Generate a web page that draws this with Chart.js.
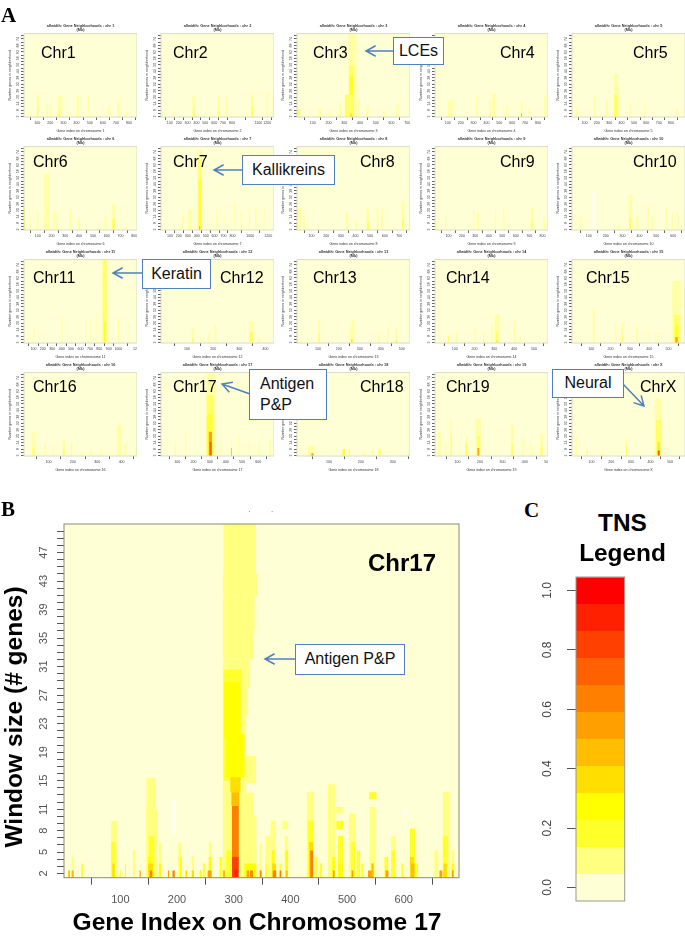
<!DOCTYPE html>
<html>
<head>
<meta charset="utf-8">
<title>Gene neighborhoods by chromosome</title>
<script src="https://cdn.jsdelivr.net/npm/chart.js@4/dist/chart.umd.min.js"></script>
<style>
  html, body { margin: 0; padding: 0; background: #fff; }
  #page { position: relative; width: 685px; height: 936px; overflow: hidden; font-family: "Liberation Sans", sans-serif; }
  canvas { position: absolute; }
  canvas.small { filter: blur(0.6px); }
  canvas.large { filter: blur(0.4px); }
  .note { position: absolute; white-space: nowrap; color: #000; line-height: 1; transform: translate(0, -50%); }
  .box { position: absolute; box-sizing: border-box; background: #fff; border: 1.5px solid #4f81bd; color: #111; display: flex; align-items: center; justify-content: center; font-size: 16px; line-height: 1.3; }
  svg { position: absolute; left: 0; top: 0; }
</style>
</head>
<body>
<div id="page"></div>
<script>
// colour for each TNS level, 0 is the pale gap colour, 1 the background
const tnsShades = ["#FFFFF0", "#FFFFD5", "#FFFF80", "#FFFF2A", "#FFFF00", "#FFDF00", "#FFBF00", "#FF9F00", "#FF8000", "#FF6000", "#FF4000", "#FF2000", "#FF0000"];
// the small panels were shrunk in the figure, so their thin stripes read paler
const smallShades = ["#FFFFF0", "#FFFFD5", "#FFFFA6", "#FFFF66", "#FFFF2A", "#FFE640", "#FFBF00", "#FFA020", "#FF8000", "#FF6000", "#FF4000", "#FF2000", "#FF0000"];
const legendEdges = [-0.045, 0.045, 0.136, 0.227, 0.318, 0.409, 0.5, 0.591, 0.682, 0.773, 0.864, 0.955, 1.045];
const legendTicks = [0, 0.2, 0.4, 0.6, 0.8, 1];

const chrNames = ["Chr1", "Chr2", "Chr3", "Chr4", "Chr5", "Chr6", "Chr7", "Chr8", "Chr9", "Chr10", "Chr11", "Chr12", "Chr13", "Chr14", "Chr15", "Chr16", "Chr17", "Chr18", "Chr19", "ChrX"];
const chrIds = ["1", "2", "3", "4", "5", "6", "7", "8", "9", "10", "11", "12", "13", "14", "15", "16", "17", "18", "19", "X"];
const chrGeneCounts = [860, 1275, 717, 878, 913, 820, 1265, 773, 840, 670, 1200, 433, 540, 571, 586, 463, 697, 354, 503, 576];
const chrTickLabels = [
  [100, 200, 300, 400, 500, 600, 700, 800],
  [100, 200, 300, 400, 500, 600, 700, 800, 1100, 1200],
  [100, 200, 300, 400, 500, 600, 700],
  [100, 200, 300, 400, 500, 600, 700, 800],
  [100, 200, 300, 400, 500, 600, 700, 800],
  [100, 200, 300, 400, 500, 600, 700, 800],
  [100, 200, 300, 400, 500, 600, 700, 800, 1000, 1200],
  [100, 200, 300, 400, 500, 600, 700],
  [100, 200, 300, 400, 500, 600, 700, 800],
  [100, 200, 300, 400, 500, 600],
  [100, 200, 300, 400, 500, 600, 700, 800, 900, 1000, 1200],
  [100, 200, 300, 400],
  [100, 200, 300, 400, 500],
  [100, 200, 300, 400, 500],
  [100, 200, 300, 400, 500],
  [100, 200, 300, 400],
  [100, 200, 300, 400, 500, 600],
  [100, 200, 300],
  [100, 200, 300, 400, 500],
  [100, 200, 300, 400, 500]
];
const smallWindowLabels = [2, 8, 14, 20, 26, 32, 38, 44, 50, 56, 62, 68, 74];

// stripes: [first gene, last gene, top window, level]
const chr1Stripes = [[95, 115, 22, 2], [170, 185, 14.5, 2], [200, 210, 12.6, 2], [256, 292, 20.8, 2], [400, 420, 20.8, 2], [487, 503, 21.4, 2], [638, 654, 11.4, 2], [710, 726, 17.3, 2], [770, 785, 7, 2], [48, 58, 6, 2], [345, 355, 6, 2], [100, 108, 9, 3], [262, 275, 8, 3]];
const chr2Stripes = [[135, 155, 7, 2], [351, 389, 21, 2], [637, 668, 20, 2], [728, 751, 20, 2], [1011, 1049, 22, 2], [1190, 1210, 23, 2], [1260, 1275, 23, 2], [360, 378, 9, 3], [645, 660, 8, 3], [1020, 1040, 12, 3]];
const chr3Stripes = [[326, 379, 79, 2], [330, 362, 49.5, 3], [332, 358, 40, 4], [304, 358, 22, 3], [336, 352, 5, 5], [0, 20, 9, 3], [135, 155, 9, 2], [200, 215, 6, 2], [265, 280, 14.5, 2], [385, 398, 17, 2], [440, 455, 12, 2], [545, 560, 7, 2], [630, 645, 13.5, 2]];
const chr4Stripes = [[100, 118, 16.7, 2], [118, 140, 18, 2], [320, 335, 21.4, 2], [445, 470, 23, 2], [420, 435, 16, 2], [555, 570, 12, 2], [530, 540, 12, 2], [665, 680, 15, 2], [668, 676, 5, 6], [725, 735, 10, 2], [845, 865, 22, 2]];
const chr5Stripes = [[340, 373, 41.7, 2], [354, 381, 30, 2], [340, 365, 22, 3], [176, 190, 21.4, 2], [268, 290, 18, 2], [30, 45, 10.4, 2], [465, 475, 15, 2], [585, 595, 15, 2], [840, 855, 9, 2]];
const chr6Stripes = [[146, 185, 54, 2], [0, 8, 22, 3], [92, 105, 17.6, 2], [212, 225, 19, 2], [235, 245, 19, 2], [330, 345, 20.7, 2], [390, 405, 13, 2], [585, 600, 15, 2], [635, 665, 25.4, 2], [640, 660, 12, 3], [40, 50, 13, 2], [540, 548, 3, 5]];
const chr7Stripes = [[404, 461, 76, 2], [420, 452, 67, 3], [423, 446, 49, 4], [303, 348, 20, 2], [235, 250, 14.5, 2], [615, 625, 20.7, 2], [700, 710, 17.6, 2], [820, 835, 27, 2], [980, 995, 21.4, 2], [1055, 1070, 22, 2], [1150, 1160, 22, 2], [890, 900, 19, 2], [426, 440, 5, 6]];
const chr8Stripes = [[5, 30, 22, 2], [40, 55, 14.5, 2], [335, 350, 17.6, 2], [400, 410, 10, 2], [475, 500, 20.7, 2], [480, 495, 9, 3], [545, 558, 22, 2], [575, 590, 20.7, 2], [715, 735, 28.5, 2], [720, 732, 12, 3]];
const chr9Stripes = [[8, 20, 10, 2], [75, 85, 14.5, 2], [145, 155, 5, 2], [282, 292, 20.7, 2], [310, 330, 17.6, 2], [445, 455, 20.7, 2], [505, 517, 20.7, 2], [710, 730, 22, 2], [715, 725, 9, 3], [805, 820, 13, 2]];
const chr10Stripes = [[120, 140, 36, 0], [45, 55, 13, 2], [265, 285, 6, 2], [335, 357, 34, 2], [338, 352, 12, 3], [380, 395, 14.5, 2], [448, 458, 23, 2], [470, 485, 14.5, 2], [555, 565, 22, 2], [590, 600, 17.6, 2], [625, 635, 17.6, 2]];
const chr11Stripes = [[825, 893, 79, 2], [840, 878, 79, 3], [850, 871, 21, 4], [40, 50, 10, 2], [100, 112, 16.7, 2], [400, 410, 26, 2], [497, 505, 10, 2], [650, 660, 23, 2], [703, 715, 23, 2], [770, 780, 27.6, 2], [995, 1010, 24.5, 2], [1113, 1125, 20, 2]];
const chr12Stripes = [[22, 26, 5, 2], [117, 127, 16, 2], [120, 126, 6, 3], [152, 158, 6.7, 2], [180, 188, 10.4, 2], [205, 212, 19, 2], [337, 356, 21.4, 2], [340, 352, 12, 3], [372, 380, 6.7, 2]];
const chr13Stripes = [[0, 6, 15, 2], [100, 110, 23, 2], [102, 108, 10, 3], [250, 262, 18, 2], [262, 275, 23, 2], [258, 266, 5, 5], [385, 395, 10, 2], [430, 438, 15, 2], [470, 478, 15, 2], [473, 478, 4, 5]];
const chr14Stripes = [[65, 72, 8, 3], [105, 115, 12, 2], [200, 208, 15, 2], [242, 250, 12, 2], [285, 292, 19.6, 2], [302, 327, 27.6, 2], [308, 320, 12, 3], [310, 316, 4, 5], [398, 405, 22, 2], [430, 436, 7, 2]];
const chr15Stripes = [[108, 118, 33, 2], [222, 230, 18, 2], [255, 268, 20.7, 2], [258, 265, 9, 3], [332, 340, 16.7, 2], [398, 404, 12, 2], [432, 438, 12, 2], [520, 565, 59, 2], [528, 558, 27.6, 3], [535, 552, 18, 4], [536, 548, 7, 7]];
const chr16Stripes = [[32, 46, 24, 2], [35, 43, 9, 3], [83, 90, 13, 2], [118, 124, 11, 2], [158, 168, 17, 2], [160, 166, 8, 3], [190, 197, 13, 2], [235, 242, 5, 2], [268, 274, 6, 2], [312, 320, 6.7, 2], [380, 398, 30, 2], [410, 420, 13, 2], [455, 463, 8, 2]];
const chr17Stripes = [[281, 340, 78, 2], [281, 325, 58, 3], [285, 315, 40, 4], [295, 315, 24, 7], [299, 311, 14.5, 9], [85, 93, 14, 2], [148, 156, 23, 2], [365, 372, 13, 2], [430, 437, 18, 2], [433, 437, 9, 7], [478, 484, 21, 2], [540, 547, 17, 2], [600, 607, 13, 2], [670, 678, 17, 2]];
const chr18Stripes = [[34, 55, 11, 2], [45, 52, 4, 7], [143, 150, 8, 4], [160, 166, 8, 2], [208, 214, 6, 2], [235, 241, 8, 2], [255, 262, 8, 3], [345, 351, 4.5, 2]];
const chr19Stripes = [[15, 27, 24, 2], [45, 52, 13, 2], [68, 76, 36, 2], [70, 75, 20, 3], [138, 146, 21, 2], [135, 147, 13, 3], [180, 205, 36, 2], [186, 200, 20, 3], [189, 197, 9, 7], [337, 352, 30, 2], [340, 348, 12, 3], [388, 396, 18, 2], [422, 428, 14, 2], [467, 480, 22, 2], [470, 478, 10, 3]];
const chrXStripes = [[18, 26, 20, 2], [75, 80, 8, 3], [150, 160, 6, 2], [275, 281, 19, 2], [275, 281, 11, 3], [422, 456, 55, 2], [428, 453, 35, 3], [436, 449, 14.5, 5], [437, 447, 6.7, 9]];
const allChrStripes = [chr1Stripes, chr2Stripes, chr3Stripes, chr4Stripes, chr5Stripes, chr6Stripes, chr7Stripes, chr8Stripes, chr9Stripes, chr10Stripes, chr11Stripes, chr12Stripes, chr13Stripes, chr14Stripes, chr15Stripes, chr16Stripes, chr17Stripes, chr18Stripes, chr19Stripes, chrXStripes];

// panel B: [first gene, last gene, top window, level, bottom window if not the axis]
const detailGeneTicks = [100, 200, 300, 400, 500, 600];
const detailWindowLabels = [2, 5, 8, 11, 15, 19, 23, 27, 31, 35, 39, 43, 47];
const detailPeak = [
  [282, 339, 51, 2, 44], [281, 341, 44, 2, 41], [281, 337, 41, 2, 36], [281, 334, 36, 2, 32], [281, 328, 32, 2, 28], [281, 325, 28, 2, 24], [281, 322, 24, 2, 21], [281, 321, 21, 2],
  [319, 339, 18.5, 2, 14.6], [321, 335, 13.3, 2], [322, 340, 10, 2], [282, 299, 12.2, 2],
  [282, 313, 30.6, 3, 15], [283, 311, 28.8, 4, 21], [287, 319, 21.6, 4, 15.5], [287, 296, 5.2, 3],
  [294, 312, 15.5, 5, 13.4], [296, 310, 13.4, 6, 11.5], [297, 309, 11.5, 8, 4.3], [297, 309, 4.3, 10], [301, 307, 2.5, 11],
  [319, 340, 3.4, 4], [323, 327, 2.4, 7], [329, 334, 2.4, 8]
];
const detailStripes = [
  [190, 198, 12.2, 0, 7.6], [598, 606, 11, 0, 10],
  [8, 11, 2.4, 6], [14, 18, 4.3, 2], [14, 18, 2.4, 6], [31, 34, 3.4, 3],
  [84, 94, 9.4, 2], [84, 91, 6.4, 3], [86, 90, 3.4, 5], [99, 101, 2.4, 3], [108, 110, 3.4, 3],
  [122, 126, 5.3, 2], [134, 136, 2.4, 7],
  [146, 162, 15.4, 2], [146, 165, 11, 2], [150, 160, 7.3, 3], [149, 155, 4.3, 4], [149, 158, 3.4, 5], [152, 156, 2.4, 8],
  [168, 173, 6.3, 2], [168, 172, 3.4, 4], [184, 186, 2.4, 7], [192, 196, 2.4, 8],
  [202, 208, 6.3, 2], [205, 208, 4.3, 4], [215, 218, 2.4, 5], [226, 230, 4.4, 2], [226, 230, 2.4, 5],
  [240, 243, 2.4, 4], [246, 250, 3.4, 3], [256, 261, 6.4, 2], [256, 261, 4.3, 4], [254, 261, 2.4, 7],
  [275, 280, 4.3, 3], [281, 285, 2.4, 6],
  [346, 350, 6.3, 2], [346, 349, 2.4, 8], [356, 365, 7.3, 2], [356, 359, 3.4, 3],
  [365, 374, 9.4, 2], [367, 372, 5.2, 4], [368, 375, 3.4, 5], [369, 375, 2.4, 8], [381, 384, 3.4, 3], [381, 384, 2.4, 8],
  [386, 395, 9.4, 2, 8.2], [390, 396, 7.3, 2], [391, 396, 5.2, 4], [392, 395, 2.4, 6],
  [429, 442, 13.4, 2], [431, 441, 9.4, 3], [433, 440, 6.4, 5], [435, 440, 5.2, 8],
  [443, 447, 4.3, 3], [452, 456, 3.4, 3],
  [466, 479, 14.5, 2], [474, 479, 4.3, 4], [475, 478, 2.4, 7],
  [480, 493, 11.3, 2, 10.4], [481, 493, 9.4, 3, 8.2], [484, 493, 7.3, 3], [484, 492, 3.4, 4],
  [503, 515, 10.4, 2], [507, 514, 6.4, 3], [508, 511, 2.4, 7], [517, 523, 5.2, 3], [525, 529, 3.4, 3],
  [539, 552, 13.4, 3, 12.4], [540, 550, 11.3, 2], [537, 546, 2.4, 7], [543, 547, 3.4, 6],
  [566, 572, 4.3, 3], [568, 573, 2.4, 7], [578, 586, 7.3, 2], [578, 585, 5.2, 3], [596, 600, 3.4, 3],
  [611, 620, 8.3, 3], [611, 618, 4.3, 5], [613, 619, 3.4, 6], [620, 625, 3.4, 3],
  [654, 661, 5.3, 2], [669, 682, 13.4, 2], [669, 678, 7.3, 3], [670, 676, 3.4, 5], [663, 668, 2.4, 7],
  [684, 689, 5.3, 2], [685, 689, 3.4, 4], [685, 688, 2.4, 7]
];

// layout of the panels, in page pixels
const colLefts = [24, 161, 297, 435, 572];
const rowTops = [34, 147, 260, 373];
const smallWidth = 113, smallHeight = 83, smallMarginLeft = 24, smallMarginTop = 14, smallMarginBottom = 16;

Chart.defaults.font.family = "'Liberation Sans', sans-serif";
Chart.defaults.animation = false;
Chart.defaults.responsive = false;

const page = document.getElementById("page");

// thin box round the plot area
const frameBox = {
  id: "frameBox",
  afterDraw(chart, args, opts) {
    const a = chart.chartArea, ctx = chart.ctx;
    ctx.save();
    ctx.strokeStyle = opts.color;
    ctx.lineWidth = 1;
    ctx.strokeRect(a.left, a.top, a.right - a.left, a.bottom - a.top);
    ctx.restore();
  }
};
Chart.register(frameBox);

// axis labels may hang over the plot edge, keep the plot size fixed anyway
function noLabelMargins(scale) {
  scale.paddingLeft = scale.paddingRight = scale.paddingTop = scale.paddingBottom = 0;
}

function addCanvas(left, top, width, height, cls) {
  const c = document.createElement("canvas");
  c.width = width; c.height = height;
  c.style.left = left + "px"; c.style.top = top + "px";
  c.style.width = width + "px"; c.style.height = height + "px";
  c.className = cls;
  page.appendChild(c);
  return c;
}

// one floating bar per stripe, its thickness follows the stripe's gene span.
// Chart.js paints the first dataset last, so the list is reversed to keep later stripes on top
function stripeDatasets(stripes, shades, xMin, xMax, yMin, plotWidth) {
  const pxPerGene = plotWidth / (xMax - xMin);
  return stripes.map(s => ({
    data: [{ x: (s[0] + s[1]) / 2, y: [s[4] === undefined ? yMin : s[4], s[2]] }],
    backgroundColor: shades[s[3]],
    barThickness: (s[1] - s[0]) * pxPerGene,
    borderWidth: 0,
    inflateAmount: 0,
    grouped: false
  })).reverse();
}

function heatChart(canvas, cfg) {
  const plotWidth = canvas.width - cfg.marginLeft - cfg.marginRight;
  const all = [[cfg.xMin, cfg.xMax, cfg.yMax, 1]].concat(cfg.stripes);
  return new Chart(canvas, {
    type: "bar",
    data: { datasets: stripeDatasets(all, cfg.shades, cfg.xMin, cfg.xMax, cfg.yMin, plotWidth) },
    options: {
      layout: { padding: { top: cfg.paddingTop, right: cfg.marginRight, left: 0, bottom: 0 } },
      plugins: {
        legend: { display: false },
        tooltip: { enabled: false },
        frameBox: { color: cfg.frameColor },
        title: cfg.title ? {
          display: true, text: cfg.title, fullSize: false, color: "#333",
          font: { size: 3.8, weight: "bold", lineHeight: 1 },
          padding: { top: 0, bottom: 2 }
        } : { display: false }
      },
      scales: {
        x: {
          type: "linear", offset: false, min: cfg.xMin, max: cfg.xMax,
          afterFit: s => { s.height = cfg.marginBottom; noLabelMargins(s); },
          afterBuildTicks: s => { s.ticks = cfg.xTicks.map(v => ({ value: v })); },
          border: { display: false },
          grid: { drawOnChartArea: false, tickLength: cfg.tickLength, tickColor: cfg.tickColor },
          ticks: { autoSkip: false, maxRotation: 0, padding: cfg.xTickPadding, color: cfg.labelColor, font: { size: cfg.fontSize }, callback: v => String(v) },
          title: cfg.xTitle ? { display: true, text: cfg.xTitle, color: "#333", font: { size: 3.6, lineHeight: 1 }, padding: { top: 1, bottom: 0 } } : { display: false }
        },
        y: {
          min: cfg.yMin, max: cfg.yMax,
          afterFit: s => { s.width = cfg.marginLeft; noLabelMargins(s); },
          afterBuildTicks: s => { s.ticks = cfg.yTicks.map(v => ({ value: v })); },
          border: { display: false },
          grid: { drawOnChartArea: false, tickLength: cfg.tickLength, tickColor: cfg.tickColor },
          ticks: {
            autoSkip: false, minRotation: 90, maxRotation: 90, crossAlign: "center",
            padding: cfg.yTickPadding, color: cfg.labelColor, font: { size: cfg.fontSize },
            callback: v => cfg.yLabels.includes(v) ? String(v) : ""
          },
          title: cfg.yTitle ? { display: true, text: cfg.yTitle, color: "#333", font: { size: 3.6, lineHeight: 1 }, padding: { top: 8, bottom: 0 } } : { display: false }
        }
      }
    }
  });
}

// panel A, the genome wide small multiples
const smallYTicks = [];
for (let v = 2; v <= 77; v += 3) smallYTicks.push(v);

chrNames.forEach((name, i) => {
  const left = colLefts[i % 5], top = rowTops[Math.floor(i / 5)];
  const canvas = addCanvas(left - smallMarginLeft, top - smallMarginTop, smallWidth + smallMarginLeft, smallHeight + smallMarginTop + smallMarginBottom, "small");
  heatChart(canvas, {
    stripes: allChrStripes[i], shades: smallShades, xMin: 0, xMax: chrGeneCounts[i], yMin: 1.5, yMax: 79,
    xTicks: chrTickLabels[i], yTicks: smallYTicks, yLabels: smallWindowLabels,
    marginLeft: smallMarginLeft, marginRight: 0, marginBottom: smallMarginBottom, paddingTop: 4,
    tickLength: 3, tickColor: "#666", labelColor: "#444", fontSize: 3.6, xTickPadding: 1, yTickPadding: 1,
    frameColor: "#dcdcc0",
    title: ["allwidth: Gene Neighborhoods : chr " + chrIds[i], "(Mb)"],
    xTitle: "Gene index on chromosome " + chrIds[i], yTitle: "Number genes in neighborhood"
  });
});

// panel B, the chromosome 17 detail
const detailYTicks = [];
for (let v = 2; v <= 50; v++) detailYTicks.push(v);

heatChart(addCanvas(0, 510, 470, 416, "large"), {
  stripes: detailPeak.concat(detailStripes), shades: tnsShades, xMin: 0.6, xMax: 697.5, yMin: 1.4, yMax: 51,
  xTicks: detailGeneTicks, yTicks: detailYTicks, yLabels: detailWindowLabels,
  marginLeft: 64, marginRight: 11, marginBottom: 48.3, paddingTop: 14,
  tickLength: 7, tickColor: "#555", labelColor: "#555", fontSize: 11, xTickPadding: 9, yTickPadding: 7,
  frameColor: "#8a8a80"
});

// panel C, the TNS colour key
const legendData = legendEdges.slice(0, -1).map((low, i) => ({
  data: [[low, legendEdges[i + 1]]],
  backgroundColor: tnsShades[i + 1],
  borderWidth: 0,
  inflateAmount: 0,
  grouped: false,
  barPercentage: 1,
  categoryPercentage: 1
}));

new Chart(addCanvas(530, 570, 96, 335, "large"), {
  type: "bar",
  data: { labels: ["TNS"], datasets: legendData },
  options: {
    layout: { padding: { top: 7, right: 1.3, bottom: 4, left: 0 } },
    plugins: { legend: { display: false }, tooltip: { enabled: false }, frameBox: { color: "#99998c" } },
    scales: {
      x: { display: false },
      y: {
        min: -0.0455, max: 1.0455,
        afterFit: s => { s.width = 46; noLabelMargins(s); },
        afterBuildTicks: s => { s.ticks = legendTicks.map(v => ({ value: v })); },
        border: { display: false },
        grid: { drawOnChartArea: false, tickLength: 9, tickColor: "#555" },
        ticks: { autoSkip: false, minRotation: 90, maxRotation: 90, crossAlign: "center", padding: 11, color: "#444", font: { size: 12 }, callback: v => v.toFixed(1) }
      }
    }
  }
});

// text that sits on top of the charts
function note(text, x, y, size, style) {
  const d = document.createElement("div");
  d.className = "note";
  d.textContent = text;
  d.style.left = x + "px"; d.style.top = y + "px"; d.style.fontSize = size + "px";
  Object.assign(d.style, style || {});
  page.appendChild(d);
}

const labelX = [41, 173, 313, 500, 633, 33, 173, 360, 500, 633, 33, 220, 313, 446, 586, 33, 173, 360, 446, 640];
const labelY = [53, 162, 278, 387];
chrNames.forEach((name, i) => note(name, labelX[i], labelY[Math.floor(i / 5)], 16));

const letter = { fontFamily: "'Liberation Serif', serif", fontWeight: "bold" };
note("A", 1, 15, 21, letter);
note("B", 1, 509, 21, letter);
note("C", 524, 510, 21, letter);

note("Chr17", 368, 563, 24, { fontWeight: "bold" });
note("Gene Index on Chromosome 17", 72.5, 922, 24.6, { fontWeight: "bold" });
note("Window size (# genes)", 13.5, 717, 24.5, { fontWeight: "bold", transform: "translate(-50%, -50%) rotate(-90deg)" });
note("TNS", 622.5, 523, 24.4, { fontWeight: "bold", transform: "translate(-50%, -50%)" });
note("Legend", 622.5, 553, 24.4, { fontWeight: "bold", transform: "translate(-50%, -50%)" });
note(".", 248.5, 510, 8, { color: "#555" });
note(".", 271, 510, 8, { color: "#555" });

// callout boxes and their arrows
const NS = "http://www.w3.org/2000/svg";
const svg = document.createElementNS(NS, "svg");
svg.setAttribute("width", 685);
svg.setAttribute("height", 936);
page.appendChild(svg);

function arrow(x1, y1, x2, y2) {
  const a = Math.atan2(y2 - y1, x2 - x1), len = 11, spread = 0.5;
  const head = [a - spread, a + spread].map(t => [x2 - len * Math.cos(t), y2 - len * Math.sin(t)]);
  const p = document.createElementNS(NS, "path");
  p.setAttribute("d", `M${x1} ${y1}L${x2} ${y2}M${head[0][0]} ${head[0][1]}L${x2} ${y2}L${head[1][0]} ${head[1][1]}`);
  p.setAttribute("fill", "none");
  p.setAttribute("stroke", "#4f81bd");
  p.setAttribute("stroke-width", 1.5);
  svg.appendChild(p);
}

function callout(lines, left, top, right, bottom, align) {
  const d = document.createElement("div");
  d.className = "box";
  d.innerHTML = lines.join("<br>");
  d.style.left = left + "px"; d.style.top = top + "px";
  d.style.width = (right - left) + "px"; d.style.height = (bottom - top) + "px";
  if (align) { d.style.justifyContent = "flex-start"; d.style.paddingLeft = align + "px"; }
  page.appendChild(d);
}

arrow(393, 51, 366, 51);
arrow(243, 170, 214, 170);
arrow(142, 273, 113, 273);
arrow(250, 394, 222, 384);
arrow(623, 384, 644, 406);
arrow(296, 659, 265, 659);

callout(["LCEs"], 393, 37, 444, 65);
callout(["Kallikreins"], 242, 155, 335, 185);
callout(["Keratin"], 142, 259, 211, 289);
callout(["Antigen", "P&amp;P"], 249, 369, 327, 420, 10);
callout(["Neural"], 552, 369, 624, 398);
callout(["Antigen P&amp;P"], 295, 644, 405, 675);
</script>
</body>
</html>
